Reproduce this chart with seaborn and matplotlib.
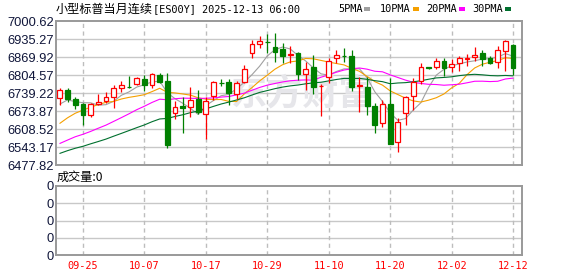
import numpy as np
import pandas as pd
import matplotlib
matplotlib.use('Agg')
import matplotlib.pyplot as plt
import seaborn as sns
from matplotlib.patches import Rectangle
from matplotlib.lines import Line2D

sns.set_theme(style='white')
plt.rcParams['font.family'] = ['Noto Sans CJK SC', 'DejaVu Sans']

# ---------------- data ----------------
title_cn = '小型标普当月连续'
title_code = '[ES00Y] 2025-12-13 06:00'
dates = pd.bdate_range('2025-09-22', '2025-12-12')

opens = [6720, 6750, 6716, 6698, 6659, 6699, 6711, 6726, 6758, 6762,
         6771, 6789, 6768, 6804, 6783, 6665, 6693, 6687, 6717, 6662,
         6728, 6776, 6778, 6735, 6780, 6886, 6916, 6926, 6905, 6899,
         6876, 6883, 6807, 6835, 6764, 6796, 6865, 6875, 6873, 6766,
         6762, 6692, 6629, 6699, 6560, 6665, 6729, 6783, 6832, 6832,
         6855, 6832, 6847, 6861, 6871, 6883, 6867, 6850, 6893, 6913]
highs = [6756, 6756, 6726, 6702, 6702, 6735, 6744, 6768, 6784, 6801,
         6798, 6804, 6811, 6813, 6811, 6710, 6726, 6762, 6750, 6724,
         6783, 6789, 6789, 6783, 6841, 6932, 6947, 6952, 6958, 6920,
         6910, 6889, 6853, 6877, 6771, 6865, 6895, 6901, 6895, 6796,
         6798, 6702, 6714, 6793, 6647, 6728, 6793, 6849, 6835, 6865,
         6867, 6863, 6873, 6880, 6905, 6895, 6873, 6910, 6932, 6917]
lows = [6695, 6708, 6680, 6623, 6653, 6696, 6702, 6684, 6744, 6756,
        6768, 6748, 6756, 6774, 6541, 6644, 6595, 6653, 6662, 6571,
        6714, 6765, 6696, 6717, 6774, 6865, 6904, 6883, 6853, 6849,
        6849, 6786, 6750, 6735, 6657, 6774, 6847, 6853, 6748, 6671,
        6659, 6593, 6617, 6553, 6526, 6623, 6677, 6771, 6826, 6826,
        6802, 6814, 6820, 6838, 6856, 6838, 6843, 6831, 6820, 6804]
closes = [6750, 6716, 6695, 6659, 6698, 6708, 6724, 6756, 6768, 6760,
          6795, 6768, 6807, 6780, 6550, 6687, 6686, 6714, 6671, 6710,
          6778, 6774, 6738, 6774, 6825, 6916, 6929, 6924, 6889, 6873,
          6880, 6810, 6826, 6762, 6766, 6856, 6877, 6873, 6762, 6768,
          6692, 6623, 6699, 6553, 6633, 6724, 6778, 6832, 6830, 6856,
          6829, 6844, 6865, 6865, 6878, 6861, 6849, 6895, 6928, 6831]
# closes before the visible window (needed for the moving averages)
prior_closes = [6420, 6435, 6445, 6430, 6455, 6460, 6440, 6465, 6450, 6480,
                6470, 6455, 6480, 6490, 6475, 6500, 6485, 6495, 6480, 6500,
                6515, 6530, 6545, 6590, 6615, 6641, 6725, 6679, 6700]
volumes = [0] * 60

ma_windows = [5, 10, 20, 30]
ma_labels = ['5PMA', '10PMA', '20PMA', '30PMA']
ma_colors = ['#a0a0a0', '#f5a000', '#ff00ff', '#00702e']

y_ticks = [6477.82, 6543.17, 6608.52, 6673.87, 6739.22,
           6804.57, 6869.92, 6935.27, 7000.62]
vol_ticks = [0, 1, 2, 3, 4]
x_tick_labels = ['09-25', '10-07', '10-17', '10-29', '11-10', '11-20', '12-02', '12-12']
vol_label = '成交量:0'
watermark = '东方财富'

# ---------------- figure ----------------
W, H = 578, 276
fig = plt.figure(figsize=(W / 100, H / 100), dpi=100)
fig.patch.set_facecolor('white')

def fx(px):
    return px / W

def fy(py):
    return 1 - py / H

MONO = ['DejaVu Sans Mono', 'Noto Sans CJK SC']
left, right = 56, 522
ax = fig.add_axes([fx(left), fy(165), fx(right - left), fy(21) - fy(165)])
vax = fig.add_axes([fx(left), fy(255), fx(right - left), fy(186) - fy(255)])

n = len(closes)
idx = np.arange(n)
df = pd.DataFrame({'idx': idx, 'open': opens, 'high': highs, 'low': lows,
                   'close': closes, 'volume': volumes,
                   'date': dates.strftime('%m-%d')})

xlim = (-0.5, 60.16)
tick_pos = [int(np.where(df['date'] == t)[0][0]) for t in x_tick_labels]
ylim_main = (y_ticks[0], y_ticks[-1])
ylim_vol = (vol_ticks[0], vol_ticks[-1])

sns.barplot(data=df, x='idx', y='volume', ax=vax, color='#008000', native_scale=True)

for a, yl, yt in ((ax, ylim_main, y_ticks), (vax, ylim_vol, vol_ticks)):
    a.set_facecolor('white')
    a.grid(False)
    for v in yt[1:-1]:
        a.add_line(Line2D(list(xlim), [v, v], color='#c8c8c8', lw=1.0, zorder=1))
    for x in tick_pos:
        a.add_line(Line2D([x, x], list(yl), color='#bdbdbd', lw=1.0,
                          ls=(0, (3, 2.5)), zorder=1))
    for side in ('left', 'right', 'top', 'bottom'):
        s = a.spines[side]
        s.set_visible(True)
        s.set_color('#999999')
        s.set_linewidth(1.4)
        s.set_zorder(10)

# watermark
ax.text(31.7, 6735, watermark, fontsize=26, fontweight='bold', color='#e6e6ea',
        ha='center', va='center', zorder=1.5)

all_close = pd.Series(prior_closes + closes)
for w, lab, col in zip(ma_windows, ma_labels, ma_colors):
    df[lab] = all_close.rolling(w).mean().iloc[len(prior_closes):].values
    sns.lineplot(data=df, x='idx', y=lab, color=col, lw=0.8, ax=ax,
                 legend=False, zorder=3)

RED = '#ff0000'
GREEN = '#008000'
bw = 0.62
for _, r in df.iterrows():
    up = r['close'] >= r['open']
    col = RED if up else GREEN
    ax.vlines(r['idx'], r['low'], r['high'], color=col, lw=0.9, zorder=4)
    lo = min(r['open'], r['close'])
    h = abs(r['close'] - r['open'])
    ax.add_patch(Rectangle((r['idx'] - bw / 2, lo), bw, h,
                           facecolor='white' if up else GREEN,
                           edgecolor=col, lw=0.9, zorder=5))

for a in (ax, vax):
    a.set_xlim(*xlim)
    a.set_xticks(tick_pos)
    a.tick_params(length=0)
    a.set_xlabel('')
    a.set_ylabel('')

ax.set_ylim(*ylim_main)
ax.set_yticks(y_ticks)
ax.set_yticklabels(['%.2f' % v for v in y_ticks], fontsize=9.3,
                   color='#10163a', family='Liberation Sans')
ax.set_xticklabels([])
ax.tick_params(axis='y', pad=1.5)

vax.set_ylim(*ylim_vol)
vax.set_yticks(vol_ticks)
vax.set_yticklabels(['0'] * len(vol_ticks), fontsize=9.3, color='#10163a',
                    family='Liberation Sans')
vax.set_xticklabels(x_tick_labels, fontsize=7.4, color='#ff0000', family=MONO)
vax.tick_params(axis='x', pad=4.5)
vax.tick_params(axis='y', pad=1.5)

# title, legend and volume label
fig.text(fx(56), fy(9), title_cn, fontsize=8.7, color='#000000', va='center', ha='left')
fig.text(fx(153), fy(9), title_code, fontsize=7.4, color='#000000', va='center',
         ha='left', family=MONO)
leg_x = [338, 380, 426, 472]
sq_x = [364, 413, 459, 505]
for lab, col, tx, sx in zip(ma_labels, ma_colors, leg_x, sq_x):
    fig.text(fx(tx), fy(9), lab, fontsize=7.4, color='#000000', va='center',
             ha='left', family=MONO)
    fig.add_artist(Rectangle((fx(sx), fy(10.5)), fx(6), fy(7) - fy(10.5),
                             facecolor=col, edgecolor='none', transform=fig.transFigure))
fig.text(fx(57), fy(177), vol_label, fontsize=8.7, color='#000000', va='center', ha='left')

fig.savefig('out.png', dpi=100, facecolor='white')
